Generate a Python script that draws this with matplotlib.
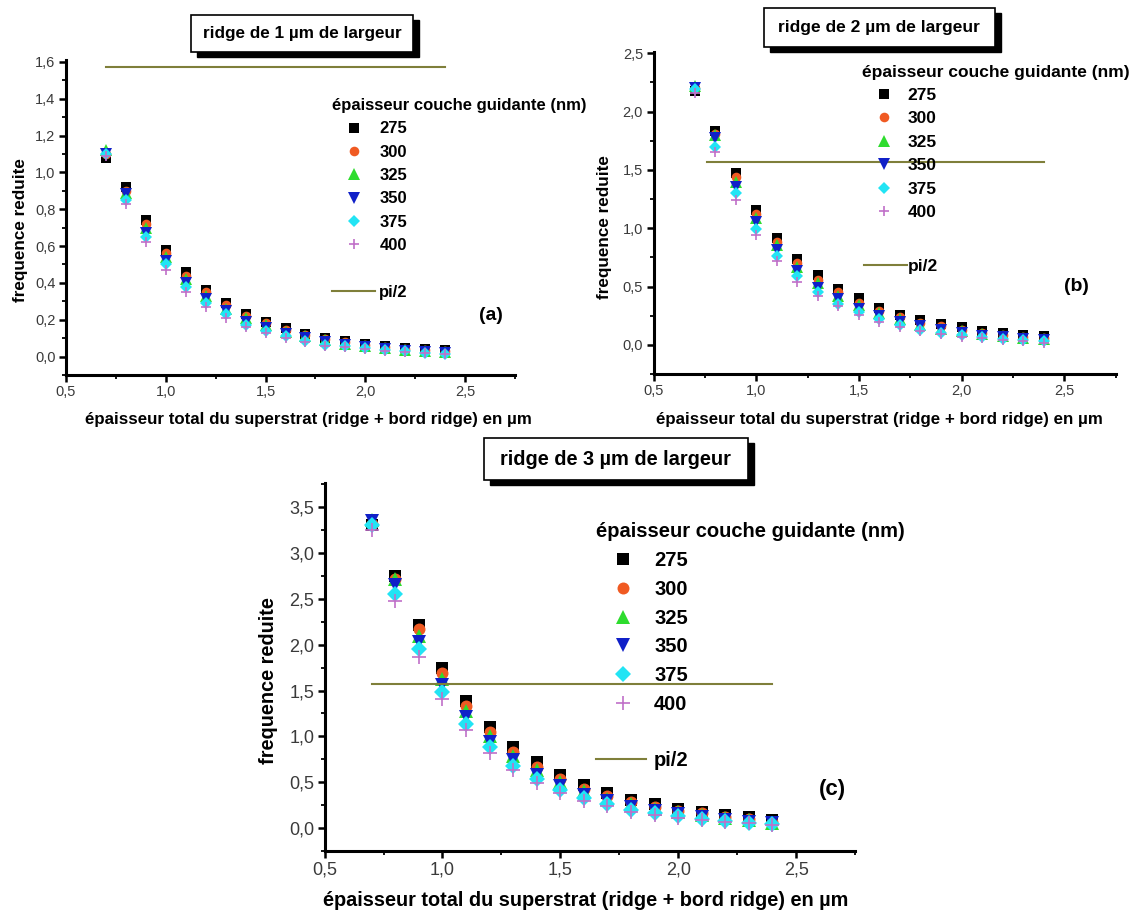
import matplotlib
matplotlib.use("Agg")
import matplotlib.pyplot as plt
from matplotlib.patches import Rectangle
from matplotlib.ticker import FixedLocator, MultipleLocator

plt.rcParams['font.family'] = ['Liberation Sans', 'DejaVu Sans']

# ---------------- data ----------------
thickness = [0.7, 0.8, 0.9, 1.0, 1.1, 1.2, 1.3, 1.4, 1.5, 1.6, 1.7, 1.8, 1.9, 2.0, 2.1, 2.2, 2.3, 2.4]
series_names = ['275', '300', '325', '350', '375', '400']

a275 = [1.08, 0.92, 0.74, 0.58, 0.46, 0.36, 0.29, 0.23, 0.19, 0.155, 0.125, 0.10, 0.085, 0.07, 0.055, 0.045, 0.04, 0.035]
a300 = [1.10, 0.90, 0.72, 0.56, 0.44, 0.35, 0.28, 0.22, 0.18, 0.145, 0.115, 0.095, 0.08, 0.065, 0.05, 0.04, 0.035, 0.03]
a325 = [1.12, 0.89, 0.70, 0.54, 0.42, 0.33, 0.26, 0.21, 0.17, 0.135, 0.11, 0.09, 0.07, 0.06, 0.045, 0.038, 0.03, 0.025]
a350 = [1.10, 0.88, 0.67, 0.52, 0.40, 0.31, 0.25, 0.19, 0.155, 0.125, 0.10, 0.08, 0.065, 0.05, 0.04, 0.032, 0.025, 0.02]
a375 = [1.10, 0.85, 0.65, 0.50, 0.38, 0.29, 0.23, 0.17, 0.14, 0.11, 0.085, 0.065, 0.055, 0.045, 0.035, 0.028, 0.02, 0.015]
a400 = [1.09, 0.83, 0.62, 0.47, 0.35, 0.27, 0.21, 0.16, 0.13, 0.10, 0.08, 0.06, 0.05, 0.04, 0.03, 0.025, 0.018, 0.012]

b275 = [2.18, 1.83, 1.47, 1.16, 0.92, 0.74, 0.60, 0.48, 0.40, 0.32, 0.26, 0.21, 0.18, 0.15, 0.12, 0.10, 0.085, 0.075]
b300 = [2.20, 1.81, 1.44, 1.12, 0.88, 0.70, 0.56, 0.45, 0.36, 0.29, 0.24, 0.19, 0.16, 0.13, 0.105, 0.085, 0.07, 0.06]
b325 = [2.22, 1.80, 1.40, 1.09, 0.86, 0.67, 0.53, 0.42, 0.34, 0.27, 0.22, 0.17, 0.14, 0.115, 0.09, 0.075, 0.06, 0.05]
b350 = [2.20, 1.77, 1.35, 1.05, 0.81, 0.63, 0.49, 0.39, 0.31, 0.25, 0.20, 0.16, 0.13, 0.10, 0.08, 0.065, 0.05, 0.04]
b375 = [2.19, 1.70, 1.30, 0.99, 0.76, 0.59, 0.45, 0.35, 0.28, 0.22, 0.17, 0.13, 0.105, 0.085, 0.065, 0.05, 0.04, 0.03]
b400 = [2.16, 1.65, 1.24, 0.94, 0.72, 0.54, 0.42, 0.33, 0.26, 0.20, 0.15, 0.12, 0.09, 0.07, 0.055, 0.04, 0.03, 0.02]

c275 = [3.30, 2.75, 2.22, 1.75, 1.39, 1.10, 0.88, 0.72, 0.58, 0.47, 0.38, 0.31, 0.26, 0.21, 0.18, 0.14, 0.12, 0.09]
c300 = [3.32, 2.72, 2.17, 1.69, 1.33, 1.05, 0.83, 0.67, 0.54, 0.43, 0.35, 0.28, 0.23, 0.19, 0.16, 0.12, 0.10, 0.07]
c325 = [3.36, 2.72, 2.10, 1.63, 1.28, 1.00, 0.79, 0.63, 0.50, 0.40, 0.32, 0.26, 0.21, 0.17, 0.14, 0.11, 0.085, 0.06]
c350 = [3.35, 2.65, 2.03, 1.56, 1.21, 0.94, 0.74, 0.58, 0.46, 0.36, 0.29, 0.23, 0.19, 0.15, 0.12, 0.09, 0.07, 0.05]
c375 = [3.30, 2.55, 1.95, 1.48, 1.14, 0.88, 0.68, 0.53, 0.42, 0.33, 0.26, 0.20, 0.16, 0.13, 0.10, 0.08, 0.06, 0.04]
c400 = [3.25, 2.48, 1.87, 1.41, 1.07, 0.82, 0.63, 0.49, 0.38, 0.30, 0.24, 0.18, 0.14, 0.11, 0.09, 0.07, 0.05, 0.03]

pi_half = 1.5708
pi_x_a = [0.7, 2.4]
pi_x_b = [0.76, 2.4]
pi_x_c = [0.7, 2.4]

x_ticks = [0.5, 1.0, 1.5, 2.0, 2.5]
x_tick_labels = ['0,5', '1,0', '1,5', '2,0', '2,5']
y_ticks_a = [0.0, 0.2, 0.4, 0.6, 0.8, 1.0, 1.2, 1.4, 1.6]
y_tick_labels_a = ['0,0', '0,2', '0,4', '0,6', '0,8', '1,0', '1,2', '1,4', '1,6']
y_ticks_b = [0.0, 0.5, 1.0, 1.5, 2.0, 2.5]
y_tick_labels_b = ['0,0', '0,5', '1,0', '1,5', '2,0', '2,5']
y_ticks_c = [0.0, 0.5, 1.0, 1.5, 2.0, 2.5, 3.0, 3.5]
y_tick_labels_c = ['0,0', '0,5', '1,0', '1,5', '2,0', '2,5', '3,0', '3,5']

titles = ['ridge de 1 µm de largeur', 'ridge de 2 µm de largeur', 'ridge de 3 µm de largeur']
tags = ['(a)', '(b)', '(c)']
xlabel = 'épaisseur total du superstrat (ridge + bord ridge) en µm'
ylabel = 'frequence reduite'
legend_title = 'épaisseur couche guidante (nm)'
pi_label = 'pi/2'

# ---------------- styles ----------------
markers = ['s', 'o', '^', 'v', 'D', '+']
marker_scale = {'s': 1.0, 'o': 1.05, '^': 1.3, 'v': 1.3, 'D': 0.95, '+': 1.15}
colors = ['#000000', '#f05a22', '#2edc2e', '#1020c8', '#22e4f4', '#c070c8']
pi_color = '#7f7f3a'
tick_color = '#3a3a3a'

W, H = 1135, 914
fig = plt.figure(figsize=(W / 100, H / 100), dpi=100)


def fx(px):
    return px / W


def fy(py):
    return 1 - py / H


def make_axes(left, top, right, bottom):
    return fig.add_axes([fx(left), fy(bottom), fx(right - left), (bottom - top) / H])


def style_axes(ax, xlim, ylim, yticks, ylabels, yminor, fs_tick):
    ax.set_xlim(*xlim)
    ax.set_ylim(*ylim)
    for s in ['top', 'right']:
        ax.spines[s].set_visible(False)
    for s in ['left', 'bottom']:
        ax.spines[s].set_linewidth(2.2)
    ax.xaxis.set_major_locator(FixedLocator(x_ticks))
    ax.set_xticklabels(x_tick_labels)
    ax.xaxis.set_minor_locator(MultipleLocator(0.25))
    ax.yaxis.set_major_locator(FixedLocator(yticks))
    ax.set_yticklabels(ylabels)
    ax.yaxis.set_minor_locator(MultipleLocator(yminor))
    ax.tick_params(which='major', direction='out', length=5, width=1.8,
                   labelsize=fs_tick, labelcolor=tick_color, pad=2.5)
    ax.tick_params(which='minor', direction='out', length=3, width=1.3)


def title_box(left, top, right, bottom, text, fs, sx=6, sy=5):
    fig.add_artist(Rectangle((fx(left + sx), fy(bottom + sy)), fx(right - left), (bottom - top) / H,
                             transform=fig.transFigure, facecolor='black', edgecolor='black', zorder=5))
    fig.add_artist(Rectangle((fx(left), fy(bottom)), fx(right - left), (bottom - top) / H,
                             transform=fig.transFigure, facecolor='white', edgecolor='black',
                             linewidth=1.2, zorder=6))
    fig.text(fx((left + right) / 2), fy((top + bottom) / 2), text, ha='center', va='center',
             fontsize=fs, fontweight='bold', zorder=7)


def labels(ax, fs_x, xpos, fs_y, ypos):
    ax.set_xlabel(xlabel, fontsize=fs_x, fontweight='bold')
    ax.set_ylabel(ylabel, fontsize=fs_y, fontweight='bold')
    ax.xaxis.set_label_coords(fx(xpos[0]), fy(xpos[1]), transform=fig.transFigure)
    ax.yaxis.set_label_coords(fx(ypos[0]), fy(ypos[1]), transform=fig.transFigure)
    ax.xaxis.label.set_va('center')
    ax.yaxis.label.set_va('center')


def panel(ax, data, pi_x, ms, fs_leg, leg_xy, leg_hl, leg_pad, leg_spacing,
          pi_xy, pi_hl, pi_pad, tag, tag_xy, fs_tag):
    handles = []
    for vals, name, m, c in zip(data, series_names, markers, colors):
        if m == '+':
            h, = ax.plot(thickness, vals, linestyle='none', marker=m, ms=ms * marker_scale[m], mew=1.2,
                         color=c, label=name, clip_on=False)
        else:
            h, = ax.plot(thickness, vals, linestyle='none', marker=m, ms=ms * marker_scale[m], mew=0,
                         color=c, label=name, clip_on=False)
        handles.append(h)
    line, = ax.plot(pi_x, [pi_half, pi_half], color=pi_color, lw=1.5, label=pi_label)

    leg = ax.legend(handles=handles, title=legend_title, loc='upper left',
                    bbox_to_anchor=(fx(leg_xy[0]), fy(leg_xy[1])), bbox_transform=fig.transFigure,
                    frameon=False, borderpad=0, borderaxespad=0, alignment='left',
                    handlelength=leg_hl, handletextpad=leg_pad, labelspacing=leg_spacing,
                    prop={'weight': 'bold', 'size': fs_leg},
                    title_fontproperties={'weight': 'bold', 'size': fs_leg})
    ax.add_artist(leg)
    ax.legend(handles=[line], loc='upper left',
              bbox_to_anchor=(fx(pi_xy[0]), fy(pi_xy[1])), bbox_transform=fig.transFigure,
              frameon=False, borderpad=0, borderaxespad=0,
              handlelength=pi_hl, handletextpad=pi_pad,
              prop={'weight': 'bold', 'size': fs_leg})
    fig.text(fx(tag_xy[0]), fy(tag_xy[1]), tag, ha='center', va='center',
             fontsize=fs_tag, fontweight='bold')


# ---------------- panel (a) ----------------
ax_a = make_axes(66, 60, 515, 375)
style_axes(ax_a, (0.5, 2.75), (-0.1, 1.61), y_ticks_a, y_tick_labels_a, 0.1, 10.5)
panel(ax_a, [a275, a300, a325, a350, a375, a400], pi_x_a, 6.6, 12,
      (332, 98), 2.63, 0.24, 0.5, (332, 285), 2.57, 0.24, tags[0], (491, 315), 14)
labels(ax_a, 12.2, (308, 420), 12.3, (21, 230))
title_box(191, 15, 413, 51.7, titles[0], 12.3)

# ---------------- panel (b) ----------------
ax_b = make_axes(653.5, 51.7, 1115.5, 374)
style_axes(ax_b, (0.5, 2.75), (-0.25, 2.514), y_ticks_b, y_tick_labels_b, 0.25, 10.5)
panel(ax_b, [b275, b300, b325, b350, b375, b400], pi_x_b, 6.6, 12.5,
      (862.5, 64.5), 2.53, 0.05, 0.48, (864, 259), 2.45, 0.1, tags[1], (1076, 287), 14)
labels(ax_b, 12.2, (879, 420), 12.3, (604, 227))
title_box(763.5, 8.3, 994.5, 46.7, titles[1], 12.5)

# ---------------- panel (c) ----------------
ax_c = make_axes(324.6, 483.3, 855, 851)
style_axes(ax_c, (0.5, 2.75), (-0.25, 3.76), y_ticks_c, y_tick_labels_c, 0.25, 13)
panel(ax_c, [c275, c300, c325, c350, c375, c400], pi_x_c, 8.2, 14.5,
      (596, 522), 2.69, 0.2, 0.49, (596, 751), 2.49, 0.4, tags[2], (832.5, 790), 16)
labels(ax_c, 14.3, (586, 901), 14.3, (268.7, 681))
title_box(484, 438.3, 747.5, 480, titles[2], 14.4)

fig.savefig('out.png', dpi=100, facecolor='white')
